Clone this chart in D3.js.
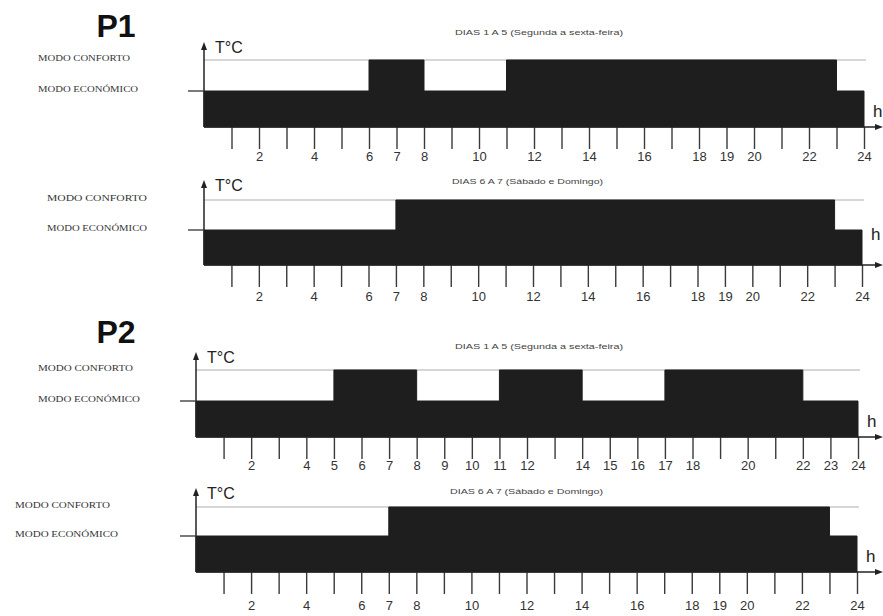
<!DOCTYPE html>
<html>
<head>
<meta charset="utf-8">
<script src="https://cdn.jsdelivr.net/npm/d3@7"></script>
<style>
body { margin: 0; background: #fff; }
</style>
</head>
<body>
<div id="chart"></div>
<script>
// data: [hora de inicio, nivel]  (1 = económico, 2 = conforto), ultimo ponto fecha as 24h
var p1Semana = [[0, 1], [6, 2], [8, 1], [11, 2], [23, 1], [24, 1]];
var p1Fim = [[0, 1], [7, 2], [23, 1], [24, 1]];
var p2Semana = [[0, 1], [5, 2], [8, 1], [11, 2], [14, 1], [17, 2], [22, 1], [24, 1]];
var p2Fim = [[0, 1], [7, 2], [23, 1], [24, 1]];

var horas = [1, 2, 3, 4, 5, 6, 7, 8, 9, 10, 11, 12, 13, 14, 15, 16, 17, 18, 19, 20, 21, 22, 23, 24];
var etiquetasP1 = [2, 4, 6, 7, 8, 10, 12, 14, 16, 18, 19, 20, 22, 24];
var etiquetasP1Fim = [2, 4, 6, 7, 8, 10, 12, 14, 16, 18, 19, 20, 22, 24];
var etiquetasP2 = [2, 4, 5, 6, 7, 8, 9, 10, 11, 12, 14, 15, 16, 17, 18, 20, 22, 23, 24];
var etiquetasP2Fim = [2, 4, 6, 7, 8, 10, 12, 14, 16, 18, 19, 20, 22, 24];

var modoConforto = "MODO CONFORTO";
var modoEconomico = "MODO ECONÓMICO";
var tituloSemana = "DIAS 1 A 5 (Segunda a sexta-feira)";
var tituloFim = "DIAS 6 A 7 (Sábado e Domingo)";

// layout of the four panels
var paineis = [
    { grupo: "P1", grupoY: 37, titulo: tituloSemana, dados: p1Semana, etiquetas: etiquetasP1,
      x0: 204, x24: 864, topo: 42, conf: 60, eco: 91, base: 127,
      tX: 455, tY: 35, tW: 168, lX: 38, lW: [92, 100], hY: 117, pad: 3 },
    { titulo: tituloFim, dados: p1Fim, etiquetas: etiquetasP1Fim,
      x0: 204, x24: 862, topo: 180, conf: 200, eco: 230, base: 265,
      tX: 452, tY: 184, tW: 151, lX: 47, lW: [100, 100], hY: 240, pad: 5 },
    { grupo: "P2", grupoY: 343, titulo: tituloSemana, dados: p2Semana, etiquetas: etiquetasP2,
      x0: 196, x24: 858, topo: 352, conf: 370, eco: 401, base: 437,
      tX: 455, tY: 349, tW: 168, lX: 38, lW: [95, 102], hY: 427, pad: 2 },
    { titulo: tituloFim, dados: p2Fim, etiquetas: etiquetasP2Fim,
      x0: 196, x24: 857, topo: 488, conf: 507, eco: 536, base: 572,
      tX: 450, tY: 494, tW: 153, lX: 15, lW: [95, 103], hY: 562, pad: 7 }
];

var svg = d3.select("#chart")
    .append("svg")
    .attr("width", 883)
    .attr("height", 616);

paineis.forEach(function (p) {
    var g = svg.append("g");

    var x = d3.scaleLinear().domain([0, 24]).range([p.x0, p.x24]);
    var y = d3.scaleLinear().domain([0, 1, 2]).range([p.base, p.eco, p.conf]);

    // group title
    if (p.grupo) {
        g.append("text")
            .attr("x", 116)
            .attr("y", p.grupoY)
            .attr("text-anchor", "middle")
            .attr("font-family", "Liberation Sans, Arial, sans-serif")
            .attr("font-weight", "bold")
            .style("font-size", "32px")
            .attr("fill", "#111")
            .text(p.grupo);
    }

    // panel title
    g.append("text")
        .attr("x", p.tX)
        .attr("y", p.tY)
        .attr("font-family", "Liberation Sans, Arial, sans-serif")
        .style("font-size", "8px")
        .attr("fill", "#444")
        .attr("textLength", p.tW)
        .attr("lengthAdjust", "spacingAndGlyphs")
        .text(p.titulo);

    // mode labels on the left
    [[2, modoConforto], [1, modoEconomico]].forEach(function (m, i) {
        g.append("text")
            .attr("x", p.lX)
            .attr("y", y(m[0]) + 1)
            .attr("font-family", "Liberation Serif, Times New Roman, serif")
            .style("font-size", "9px")
            .attr("fill", "#333")
            .attr("textLength", p.lW[i])
            .attr("lengthAdjust", "spacingAndGlyphs")
            .text(m[1]);
    });

    // comfort level guide
    g.append("line")
        .attr("x1", x(0))
        .attr("x2", x(24) + 2)
        .attr("y1", y(2))
        .attr("y2", y(2))
        .attr("stroke", "#c8c8c8")
        .attr("stroke-width", 1.5);

    // schedule area
    var area = d3.area()
        .x(function (d) { return x(d[0]); })
        .y0(y(0))
        .y1(function (d) { return y(d[1]); })
        .curve(d3.curveStepAfter);

    g.append("path")
        .datum(p.dados)
        .attr("d", area)
        .attr("fill", "#1e1e1e")
        .attr("stroke", "#1e1e1e")
        .attr("stroke-width", 1);

    // x axis ticks
    var xAxis = d3.axisBottom(x)
        .tickValues(horas)
        .tickSize(22)
        .tickPadding(p.pad)
        .tickFormat(function (d) { return p.etiquetas.indexOf(d) >= 0 ? d : ""; });

    var ax = g.append("g")
        .attr("transform", "translate(0," + p.base + ")")
        .call(xAxis);
    ax.select(".domain").remove();
    ax.selectAll(".tick line")
        .attr("stroke", "#3a3a3a")
        .attr("stroke-width", 1.4);
    ax.selectAll(".tick text")
        .attr("fill", "#333")
        .attr("font-family", "Liberation Sans, Arial, sans-serif")
        .style("font-size", "13px");

    // x axis arrow
    g.append("line")
        .attr("x1", x(0))
        .attr("x2", 878)
        .attr("y1", p.base)
        .attr("y2", p.base)
        .attr("stroke", "#222")
        .attr("stroke-width", 1.5);
    g.append("path")
        .attr("d", "M883," + p.base + "L875," + (p.base - 3) + "L875," + (p.base + 3) + "Z")
        .attr("fill", "#222");

    g.append("text")
        .attr("x", x(24) + 9)
        .attr("y", p.hY)
        .attr("font-family", "Liberation Sans, Arial, sans-serif")
        .style("font-size", "17px")
        .attr("fill", "#222")
        .text("h");

    // y axis arrow
    g.append("line")
        .attr("x1", x(0))
        .attr("x2", x(0))
        .attr("y1", p.base)
        .attr("y2", p.topo + 5)
        .attr("stroke", "#222")
        .attr("stroke-width", 1.5);
    g.append("path")
        .attr("d", "M" + x(0) + "," + p.topo + "L" + (x(0) - 3) + "," + (p.topo + 8) + "L" + (x(0) + 3) + "," + (p.topo + 8) + "Z")
        .attr("fill", "#222");
    g.append("line")
        .attr("x1", x(0) - 16)
        .attr("x2", x(0))
        .attr("y1", y(1))
        .attr("y2", y(1))
        .attr("stroke", "#333")
        .attr("stroke-width", 1.3);

    g.append("text")
        .attr("x", x(0) + 11)
        .attr("y", p.topo + 11)
        .attr("font-family", "Liberation Sans, Arial, sans-serif")
        .style("font-size", "16px")
        .attr("fill", "#222")
        .text("T°C");
});
</script>
</body>
</html>
